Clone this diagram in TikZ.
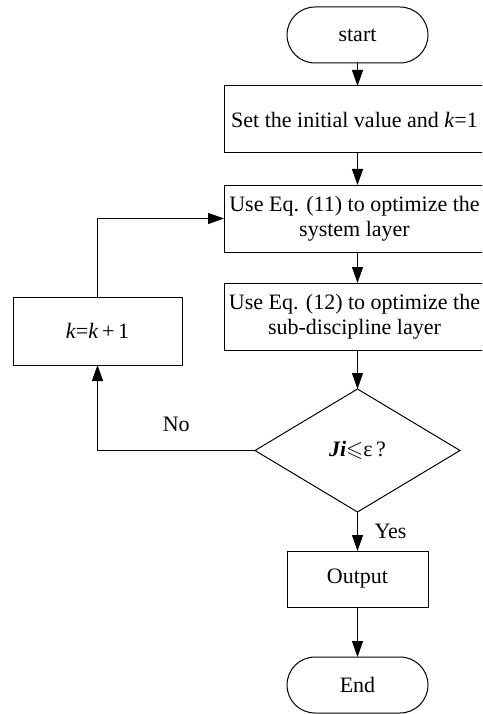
\documentclass[tikz,border=0pt]{standalone}
\usepackage{amssymb}
\usepackage{fontspec}
\setmainfont{Liberation Serif}
\usetikzlibrary{arrows.meta,shapes.geometric,shapes.misc}

\begin{document}
\begin{tikzpicture}[x=1pt, y=-1pt, inner sep=0pt, outer sep=0pt,
  font=\fontsize{22}{25}\selectfont,
  term/.style={draw, line width=1pt, rounded rectangle, minimum width=141pt, minimum height=56pt},
  proc/.style={draw, line width=1pt, rectangle, minimum width=261pt, minimum height=67pt, align=center},
  cond/.style={draw, line width=1pt, diamond, aspect=1.67, minimum width=205pt, minimum height=123pt},
  flow/.style={line width=1.3pt, -{Triangle[length=16pt,width=11pt]}}]
\useasboundingbox (0,0) rectangle (482,714);
\clip (0,0) rectangle (482,714);

  % main column
  \node[term] (start) at (357.5,35) {start};
  \node[proc] (init) at (354.5,119.5) {Set the initial value and \textit{k}=1};
  \node[proc] (sys) at (354.5,218.5) {Use Eq. (11) to optimize the\\system layer};
  \node[proc] (sub) at (354.5,316.5) {Use Eq. (12) to optimize the\\sub-discipline layer};
  \node[cond] (check) at (357.5,450.5) {\textbf{\textit{Ji}}$\leqslant$ε\,?};
  \node[proc, minimum width=141pt, minimum height=56pt] (out) at (357.5,579) {Output};
  \node[term] (end) at (357.5,685) {End};

  % loop box
  \node[proc, minimum width=169pt, minimum height=68pt] (inc) at (97.5,331) {\textit{k}=\textit{k}\,+\,1};

  \draw[flow] (start) -- (init.north -| start);
  \draw[flow] (init.south -| start) -- (sys.north -| start);
  \draw[flow] (sys.south -| start) -- (sub.north -| start);
  \draw[flow] (sub.south -| check) -- (check);
  \draw[flow] (check) -- node[right=17pt] {Yes} (out);
  \draw[flow] (out) -- (end);
  \draw[flow] (check.west) -| node[pos=0.25, above=19pt] {No} (inc.south);
  \draw[flow] (inc.north) |- (sys.west);
\end{tikzpicture}
\end{document}
